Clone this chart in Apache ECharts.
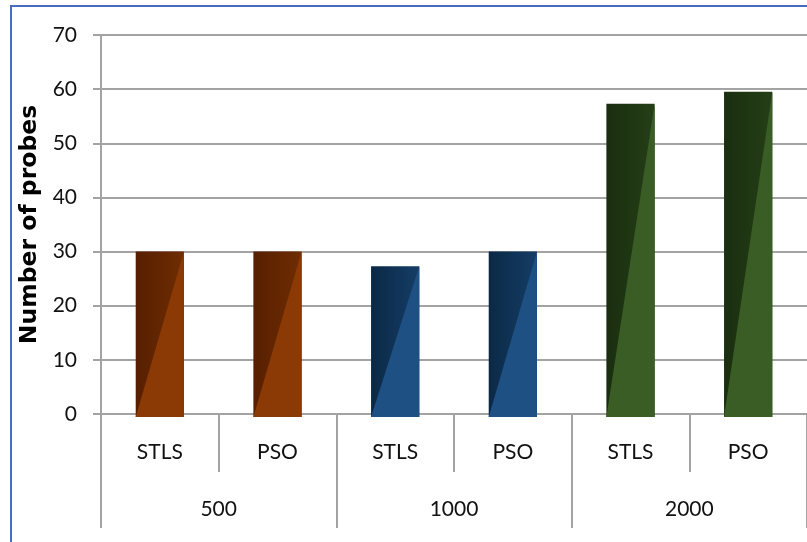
<!DOCTYPE html>
<html>
<head>
<meta charset="utf-8">
<script src="https://cdn.jsdelivr.net/npm/echarts@6/dist/echarts.min.js"></script>
<style>
  html, body { margin: 0; padding: 0; background: #fff; }
  #chart { width: 807px; height: 542px; }
</style>
</head>
<body>
<div id="chart"></div>
<script>
// Probe counts per method, grouped by problem size
const methods = ['STLS', 'PSO', 'STLS', 'PSO', 'STLS', 'PSO'];
const sizes = ['500', '1000', '2000'];
const probes = [30, 30, 27.3, 30, 57.3, 59.5];
const yMin = 0, yMax = 70, yStep = 10;

// Shading for each size group: dark left edge, mid tone, light lower-right facet
const shades = [
  { dark: '#571f00', mid: '#6f2d02', light: '#8b3a06' },
  { dark: '#0b2946', mid: '#153d66', light: '#1e5084' },
  { dark: '#1a2e0f', mid: '#243f17', light: '#395d24' }
];

const chart = echarts.init(document.getElementById('chart'));
const gridColor = '#a3a3a3';
const labelFont = 'Lato, "Open Sans", sans-serif';

function renderBar(params, api) {
  const i = api.value(0);
  const v = api.value(1);
  const top = api.coord([i, v]);
  const base = api.coord([i, 0]);
  const band = api.size([1, 0])[0];
  const w = band * 0.41;
  const x0 = top[0] - w / 2, x1 = top[0] + w / 2;
  const y0 = top[1], y1 = base[1] + 3;
  const s = shades[Math.floor(i / 2)];
  return {
    type: 'group',
    children: [
      {
        type: 'rect',
        shape: { x: x0, y: y0, width: w, height: y1 - y0 },
        style: {
          fill: new echarts.graphic.LinearGradient(0, 0, 1, 0, [
            { offset: 0, color: s.dark },
            { offset: 1, color: s.mid }
          ])
        }
      },
      {
        type: 'polygon',
        shape: { points: [[x0, y1], [x1, y1], [x1, y0]] },
        style: { fill: s.light }
      }
    ]
  };
}

chart.setOption({
  animation: false,
  grid: { left: 101, right: -2, top: 35, bottom: 128 },
  graphic: [
    {
      type: 'rect',
      shape: { x: 11, y: 6, width: 820, height: 600 },
      style: { fill: 'none', stroke: '#4a6cc0', lineWidth: 2 },
      silent: true
    }
  ],
  xAxis: [
    {
      type: 'category',
      data: methods,
      position: 'bottom',
      axisLine: { lineStyle: { color: gridColor, width: 2 } },
      axisTick: { show: true, interval: 0, length: 58, lineStyle: { color: gridColor, width: 2 } },
      axisLabel: { interval: 0, margin: 28, color: '#111', fontSize: 21, fontFamily: labelFont },
      splitLine: { show: false }
    },
    {
      type: 'category',
      data: sizes,
      position: 'bottom',
      axisLine: { show: false },
      axisTick: { show: true, interval: 0, length: 114, lineStyle: { color: gridColor, width: 2 } },
      axisLabel: { interval: 0, margin: 85, color: '#111', fontSize: 21, fontFamily: labelFont },
      splitLine: { show: false }
    }
  ],
  yAxis: {
    type: 'value',
    min: yMin,
    max: yMax,
    interval: yStep,
    name: 'Number of probes',
    nameLocation: 'middle',
    nameGap: 52,
    nameTextStyle: {
      fontFamily: '"DejaVu Sans", sans-serif',
      fontWeight: 'bold',
      fontSize: 23.5,
      color: '#000'
    },
    axisLine: { show: true, lineStyle: { color: gridColor, width: 2 } },
    axisTick: { show: true, length: 8, lineStyle: { color: gridColor, width: 2 } },
    axisLabel: { margin: 24, color: '#111', fontSize: 21, fontFamily: labelFont },
    splitLine: { lineStyle: { color: gridColor, width: 2 } }
  },
  series: [
    {
      type: 'custom',
      xAxisIndex: 0,
      yAxisIndex: 0,
      renderItem: renderBar,
      encode: { x: 0, y: 1 },
      data: probes.map((v, i) => [i, v]),
      z: 3
    }
  ]
});
</script>
</body>
</html>
